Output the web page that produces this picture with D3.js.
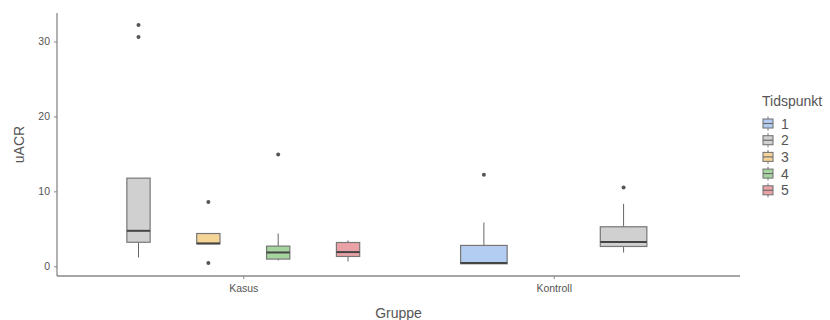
<!DOCTYPE html>
<html><head><meta charset="utf-8">
<script src="https://cdn.jsdelivr.net/npm/d3@7"></script>
<style>body{margin:0;background:#fff;} text{font-family:"Liberation Sans",Arial,sans-serif;}</style>
</head><body><svg id="c" width="830" height="320"></svg>
<script>
const groups = ["Kasus", "Kontroll"];
const timepoints = ["1", "2", "3", "4", "5"];
const colors = ["#b3cdf2", "#d0d0d0", "#f5d597", "#a5d49e", "#eba2a7"];
const yTicks = [0, 10, 20, 30];

// one entry per box
const boxGroup   = ["Kasus", "Kasus", "Kasus", "Kasus", "Kontroll", "Kontroll"];
const boxTime    = ["2", "3", "4", "5", "1", "2"];
const whiskerLow = [1.17, 3.0, 0.77, 0.64, 0.33, 1.84];
const q1         = [3.2, 3.0, 0.96, 1.31, 0.33, 2.64];
const medians    = [4.73, 3.05, 1.84, 1.89, 0.42, 3.23];
const q3         = [11.76, 4.37, 2.69, 3.17, 2.78, 5.27];
const whiskerHigh= [11.76, 4.37, 4.37, 3.44, 5.84, 8.33];
const outliers   = [[32.2, 30.6], [8.56, 0.43], [14.9], [], [12.2], [10.5]];

const svg = d3.select("#c");
const L = 57, R = 740, T = 13, B = 276;

const x = d3.scaleLinear().domain([0.4, 2.6]).range([L, R]);
const groupPos = d3.scaleOrdinal().domain(groups).range([1, 2]);
const y = d3.scaleLinear().domain([-1.3, 33.8]).range([B, T]);

const boxes = boxGroup.map((g, i) => ({g, t: boxTime[i], lo: whiskerLow[i], q1: q1[i], med: medians[i], q3: q3[i], hi: whiskerHigh[i], out: outliers[i]}));

// per-group band scale for dodging
const inner = {};
groups.forEach(g => {
  const ts = boxes.filter(b => b.g === g).map(b => b.t);
  const c = x(groupPos(g));
  const half = (x(1.45) - x(1));
  inner[g] = d3.scaleBand().domain(ts).range([c - half, c + half]).padding(0);
});

const col = d3.scaleOrdinal().domain(timepoints).range(colors);

// axes
const yAxis = svg.append("g").attr("transform", `translate(${L},0)`)
  .call(d3.axisLeft(y).tickValues(yTicks).tickSize(3).tickPadding(4));
const xAxis = svg.append("g").attr("transform", `translate(0,${B})`)
  .call(d3.axisBottom(x).tickValues(groups.map(groupPos)).tickFormat((d, i) => groups[i]).tickSize(3).tickPadding(6));
[yAxis, xAxis].forEach(a => {
  a.select(".domain").attr("stroke", "#888").attr("stroke-width", 1.3);
  a.selectAll(".tick line").attr("stroke", "#888");
  a.selectAll(".tick text").attr("fill", "#555").attr("font-size", 10.5).attr("font-family", "Liberation Sans, Arial, sans-serif");
});
// extend domain lines to corner
yAxis.select(".domain").attr("d", `M0,${T}V${B}`);
xAxis.select(".domain").attr("d", `M${L},0H${R}`);

// boxes
const gb = svg.append("g");
boxes.forEach(b => {
  const band = inner[b.g];
  const cx = band(b.t) + band.bandwidth() / 2;
  const w = band.bandwidth() / 3;
  const g = gb.append("g");
  g.append("line").attr("x1", cx).attr("x2", cx).attr("y1", y(b.hi)).attr("y2", y(b.q3)).attr("stroke", "#666").attr("stroke-width", 1);
  g.append("line").attr("x1", cx).attr("x2", cx).attr("y1", y(b.q1)).attr("y2", y(b.lo)).attr("stroke", "#666").attr("stroke-width", 1);
  g.append("rect").attr("x", cx - w / 2).attr("width", w).attr("y", y(b.q3)).attr("height", Math.max(0, y(b.q1) - y(b.q3)))
    .attr("fill", col(b.t)).attr("stroke", "#777").attr("stroke-width", 1.2);
  g.append("line").attr("x1", cx - w / 2).attr("x2", cx + w / 2).attr("y1", y(b.med)).attr("y2", y(b.med)).attr("stroke", "#444").attr("stroke-width", 2);
  b.out.forEach(o => g.append("circle").attr("cx", cx).attr("cy", y(o)).attr("r", 2).attr("fill", "#555"));
});

// axis titles
svg.append("text").attr("x", (L + R) / 2).attr("y", 318).attr("text-anchor", "middle").attr("font-size", 14).attr("fill", "#555").text("Gruppe");
svg.append("text").attr("transform", `translate(24,${(T + B) / 2}) rotate(-90)`).attr("text-anchor", "middle").attr("font-size", 14).attr("fill", "#555").text("uACR");

// legend
const lg = svg.append("g").attr("transform", "translate(762,0)");
lg.append("text").attr("x", 0).attr("y", 106).attr("font-size", 14).attr("fill", "#555").text("Tidspunkt");
timepoints.forEach((t, i) => {
  const cy = 123.5 + i * 16.7;
  const k = lg.append("g");
  k.append("line").attr("x1", 6).attr("x2", 6).attr("y1", cy - 7).attr("y2", cy + 7).attr("stroke", "#777");
  k.append("rect").attr("x", 1).attr("y", cy - 4.5).attr("width", 10).attr("height", 9).attr("fill", col(t)).attr("stroke", "#777").attr("stroke-width", 1.1);
  k.append("line").attr("x1", 1).attr("x2", 11).attr("y1", cy).attr("y2", cy).attr("stroke", "#666").attr("stroke-width", 1.1);
  lg.append("text").attr("x", 19).attr("y", cy).attr("dy", "0.36em").attr("font-size", 14).attr("fill", "#555").text(t);
});
</script></body></html>
